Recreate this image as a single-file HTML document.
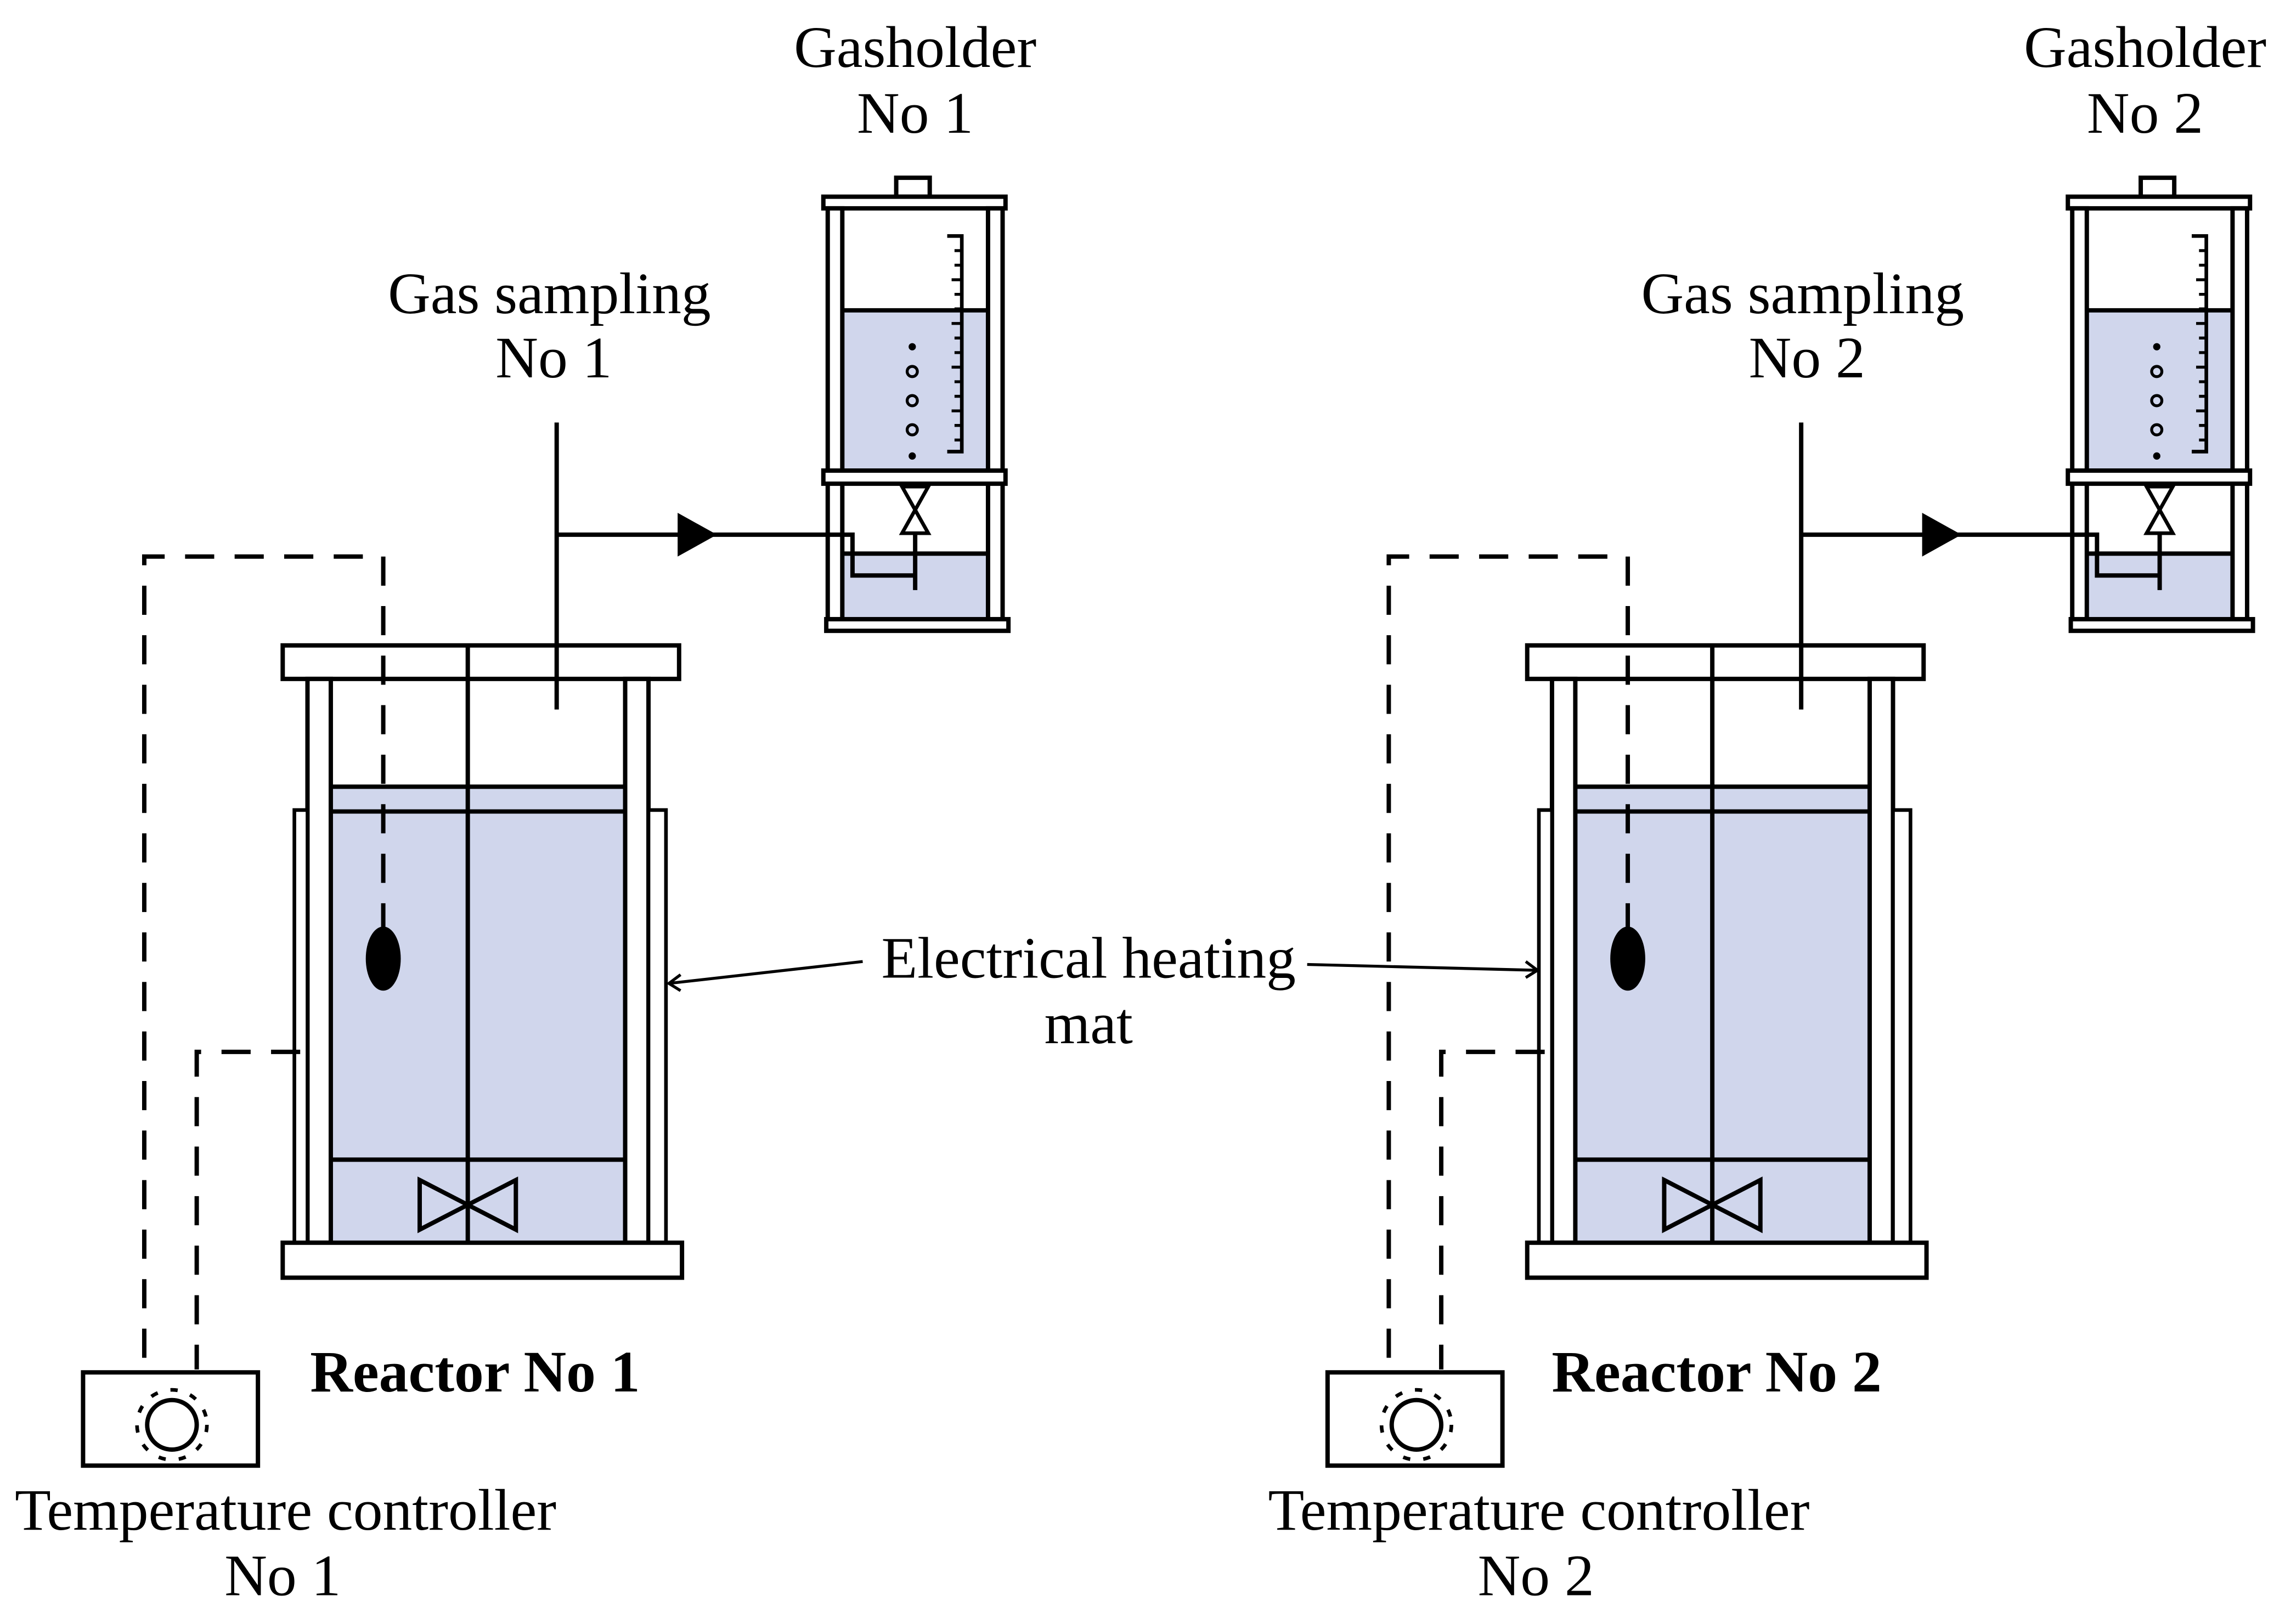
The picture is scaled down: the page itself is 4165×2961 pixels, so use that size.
<!DOCTYPE html>
<html><head><meta charset="utf-8"><style>html,body{margin:0;padding:0;background:#fff}svg{display:block}</style></head>
<body>
<svg width="4165" height="2961" viewBox="0 0 1568 1114.7" xmlns="http://www.w3.org/2000/svg" font-family="'Liberation Serif', serif">
<defs>
<g id="unit" stroke="#000" fill="none">
  <!-- reactor -->
  <rect x="227" y="540" width="202" height="313" fill="#d0d6ec" stroke="none"/>
  <line x1="227" y1="540" x2="429" y2="540" stroke-width="3"/>
  <line x1="227" y1="557" x2="429" y2="557" stroke-width="3"/>
  <line x1="227" y1="796" x2="429" y2="796" stroke-width="3"/>
  <rect x="194" y="443" width="272" height="23" fill="#fff" stroke-width="3"/>
  <rect x="211" y="466" width="16" height="387" fill="#fff" stroke-width="3"/>
  <rect x="429" y="466" width="16" height="387" fill="#fff" stroke-width="3"/>
  <rect x="202" y="556" width="9" height="297" fill="#fff" stroke-width="2.5"/>
  <rect x="445" y="556" width="12" height="297" fill="#fff" stroke-width="2.5"/>
  <line x1="321" y1="443" x2="321" y2="853" stroke-width="3"/>
  <polygon points="288,810 321,827 288,844" stroke-width="3"/>
  <polygon points="354,810 321,827 354,844" stroke-width="3"/>
  <rect x="194" y="853" width="274" height="24" fill="#fff" stroke-width="3"/>
  <ellipse cx="263" cy="658" rx="12" ry="22" fill="#000" stroke="none"/>
  <!-- dashed controls -->
  <polyline points="263,640 263,382 99,382 99,940" stroke-width="3" stroke-dasharray="20,14"/>
  <polyline points="206,722 135,722 135,940" stroke-width="3" stroke-dasharray="20,14"/>
  <!-- gasholder -->
  <rect x="578" y="213" width="100" height="110" fill="#d0d6ec" stroke="none"/>
  <rect x="578" y="380" width="100" height="45" fill="#d0d6ec" stroke="none"/>
  <line x1="578" y1="213" x2="678" y2="213" stroke-width="3"/>
  <line x1="578" y1="380" x2="678" y2="380" stroke-width="3"/>
  <rect x="615" y="122" width="23" height="13" fill="#fff" stroke-width="3"/>
  <rect x="565" y="135" width="125" height="8" fill="#fff" stroke-width="3"/>
  <rect x="568" y="143" width="10" height="282" fill="#fff" stroke-width="3"/>
  <rect x="678" y="143" width="10" height="282" fill="#fff" stroke-width="3"/>
  <rect x="565" y="323" width="125" height="9" fill="#fff" stroke-width="3"/>
  <rect x="567" y="425" width="125" height="8" fill="#fff" stroke-width="3"/>
  <polyline points="650,162 660,162 660,310 650,310" stroke-width="2.5"/>
  <path d="M655 172h5M655 182h5M653 192h7M655 202h5M655 212h5M653 222h7M655 232h5M655 242h5M653 252h7M655 262h5M655 272h5M653 282h7M655 292h5M655 302h5" stroke-width="2"/>
  <circle cx="626" cy="238" r="2.5" fill="#000" stroke="none"/>
  <circle cx="626" cy="255" r="3.5" stroke-width="2"/>
  <circle cx="626" cy="275" r="3.5" stroke-width="2"/>
  <circle cx="626" cy="295" r="3.5" stroke-width="2"/>
  <circle cx="626" cy="313" r="2.5" fill="#000" stroke="none"/>
  <polygon points="619,334 637,334 628,350" fill="#fff" stroke-width="2.5"/>
  <polygon points="619,366 637,366 628,350" fill="#fff" stroke-width="2.5"/>
  <line x1="628" y1="366" x2="628" y2="405" stroke-width="3"/>
  <!-- gas sampling -->
  <line x1="382" y1="290" x2="382" y2="487" stroke-width="3"/>
  <polyline points="382,367 585,367 585,395 628,395" stroke-width="3"/>
  <polygon points="465,352 492,367 465,382" fill="#000" stroke="none"/>
  <!-- controller -->
  <rect x="57" y="942" width="120" height="64" fill="#fff" stroke-width="3"/>
  <circle cx="118" cy="978" r="17" stroke-width="3"/>
  <circle cx="118" cy="978" r="24" stroke-width="2.5" stroke-dasharray="5,9"/>
</g>
</defs>
<use href="#unit"/>
<use href="#unit" transform="translate(854,0)"/>
<g font-size="40.5" text-anchor="middle" fill="#000">
  <text x="628" y="46">Gasholder</text><text x="628" y="91">No 1</text>
  <text x="1472" y="46">Gasholder</text><text x="1472" y="91">No 2</text>
  <text x="377" y="215">Gas sampling</text><text x="380" y="259">No 1</text>
  <text x="1237" y="215">Gas sampling</text><text x="1240" y="259">No 2</text>
  <text x="747" y="671">Electrical heating</text><text x="747" y="716">mat</text>
  <text x="326" y="955" font-weight="bold">Reactor No 1</text>
  <text x="1178" y="955" font-weight="bold">Reactor No 2</text>
  <text x="196" y="1050">Temperature controller</text><text x="194" y="1095">No 1</text>
  <text x="1056" y="1050">Temperature controller</text><text x="1054" y="1095">No 2</text>
</g>
<g stroke="#000" stroke-width="2" fill="none">
  <line x1="592" y1="660" x2="459" y2="675"/>
  <polyline points="467,669 459,675 467,680"/>
  <line x1="897" y1="662" x2="1055" y2="666"/>
  <polyline points="1047,660 1055,666 1047,671"/>
</g>
</svg>
</body></html>
